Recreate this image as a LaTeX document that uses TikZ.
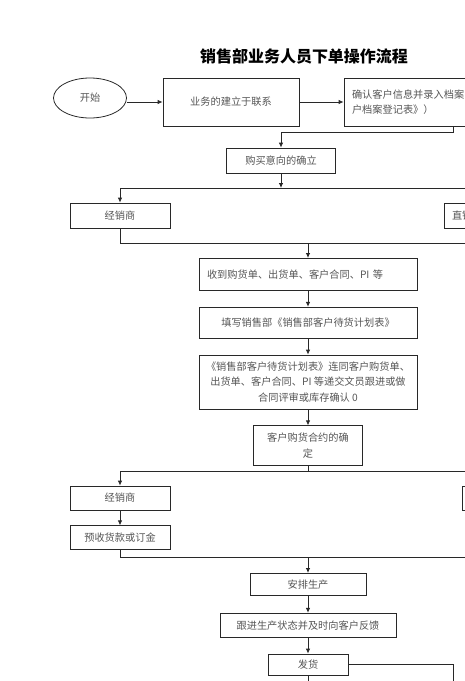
\documentclass[tikz,border=0pt]{standalone}
\usepackage{fontspec}
\setmainfont{Noto Sans CJK SC}
\usetikzlibrary{positioning,arrows.meta,shapes.geometric}
\definecolor{cline}{RGB}{40,40,40}
\definecolor{ctext}{RGB}{85,85,85}

\begin{document}
\begin{tikzpicture}[
  x=1pt,y=-1pt,
  font=\fontsize{10.2}{15.5}\selectfont,
  box/.style={draw=cline,line width=0.8pt,text=ctext,inner sep=3pt},
  oval/.style={ellipse,draw=cline,line width=0.8pt,text=ctext,minimum width=73pt,minimum height=40pt},
  arr/.style={-{Latex[length=5pt,width=4.5pt]},cline,line width=0.8pt},
  lnk/.style={cline,line width=0.8pt},
]
\useasboundingbox (0,0) rectangle (465,681);
\clip (0,0) rectangle (465,681);

\node[font=\fontsize{16}{16}\selectfont\bfseries] (title) at (304,56) {销售部业务人员下单操作流程};

% start row
\node[oval] (start) at (90,98) {开始};
\node[box,minimum width=136pt,minimum height=48pt] (work) at (231,102) {业务的建立于联系};
\node[box,text width=202pt,inner xsep=8pt,minimum height=48pt,align=left] (confirm) at (453,102)
  {确认客户信息并录入档案（《客\\户档案登记表》）};

\draw[arr] (start.east |- work.west) -- (work.west);
\draw[arr] (work) -- (confirm);

% intention, first split
\node[box,minimum width=109pt,minimum height=25pt] (intent) at (281,160.5) {购买意向的确立};
\coordinate (j1) at (281,132);
\draw[arr] (confirm.south) |- (j1) -- (intent.north);

\node[box,minimum width=100pt,minimum height=25pt] (dealer1) at (120,215.5) {经销商};
\node[box,text width=84pt,inner xsep=8pt,minimum height=25pt,align=left] (direct) at (494,215.5) {直销};
\coordinate (s1) at (281,188);
\draw[arr] (intent) -- (s1);
\draw[arr] (s1) -| (dealer1);
\draw[arr] (s1) -| (direct);

% main column
\coordinate (m1) at (308,243);
\draw[lnk] (dealer1) |- (m1);
\draw[lnk] (direct) |- (m1);

\node[box,text width=202pt,inner xsep=8pt,minimum height=32pt,align=left,below=15pt of m1] (receive)
  {收到购货单、出货单、客户合同、PI 等};
\node[box,minimum width=218pt,minimum height=31pt,below=16pt of receive] (fill)
  {填写销售部《销售部客户待货计划表》};
\node[box,minimum width=218pt,minimum height=54pt,align=center,below=16pt of fill] (submit)
  {《销售部客户待货计划表》连同客户购货单、\\出货单、客户合同、PI 等递交文员跟进或做\\合同评审或库存确认 0};
\node[box,minimum width=109pt,minimum height=40pt,align=center,below=16pt of submit] (contract)
  {客户购货合约的确\\定};

\draw[arr] (m1) -- (receive);
\draw[arr] (receive) -- (fill);
\draw[arr] (fill) -- (submit);
\draw[arr] (submit) -- (contract);

% second split
\coordinate (s2) at (308,471);
\node[box,minimum width=100pt,minimum height=24pt] (dealer2) at (120,498) {经销商};
\node[box,minimum width=100pt,minimum height=24pt,below=15pt of dealer2] (prepay) {预收货款或订金};
\node[box,minimum width=100pt,minimum height=24pt] (direct2) at (512,498) {};
\draw[lnk] (contract) -- (s2);
\draw[arr] (s2) -| (dealer2);
\draw[arr] (s2) -| (direct2);
\draw[arr] (dealer2) -- (prepay);

\coordinate (m2) at (308,557);
\draw[lnk] (prepay) |- (m2);
\draw[lnk] (direct2) |- (m2);

% production and delivery
\node[box,minimum width=116pt,minimum height=22pt,below=16pt of m2] (arrange) {安排生产};
\node[box,minimum width=176pt,minimum height=24pt,below=17pt of arrange] (track) {跟进生产状态并及时向客户反馈};
\node[box,minimum width=80pt,minimum height=21pt,below=16pt of track] (ship) {发货};
\draw[arr] (m2) -- (arrange);
\draw[arr] (arrange) -- (track);
\draw[arr] (track) -- (ship);

\coordinate (e1) at (453,700);
\coordinate (e2) at (308,700);
\draw[lnk] (ship) -| (e1);
\draw[lnk] (ship) -- (e2);
\end{tikzpicture}
\end{document}
